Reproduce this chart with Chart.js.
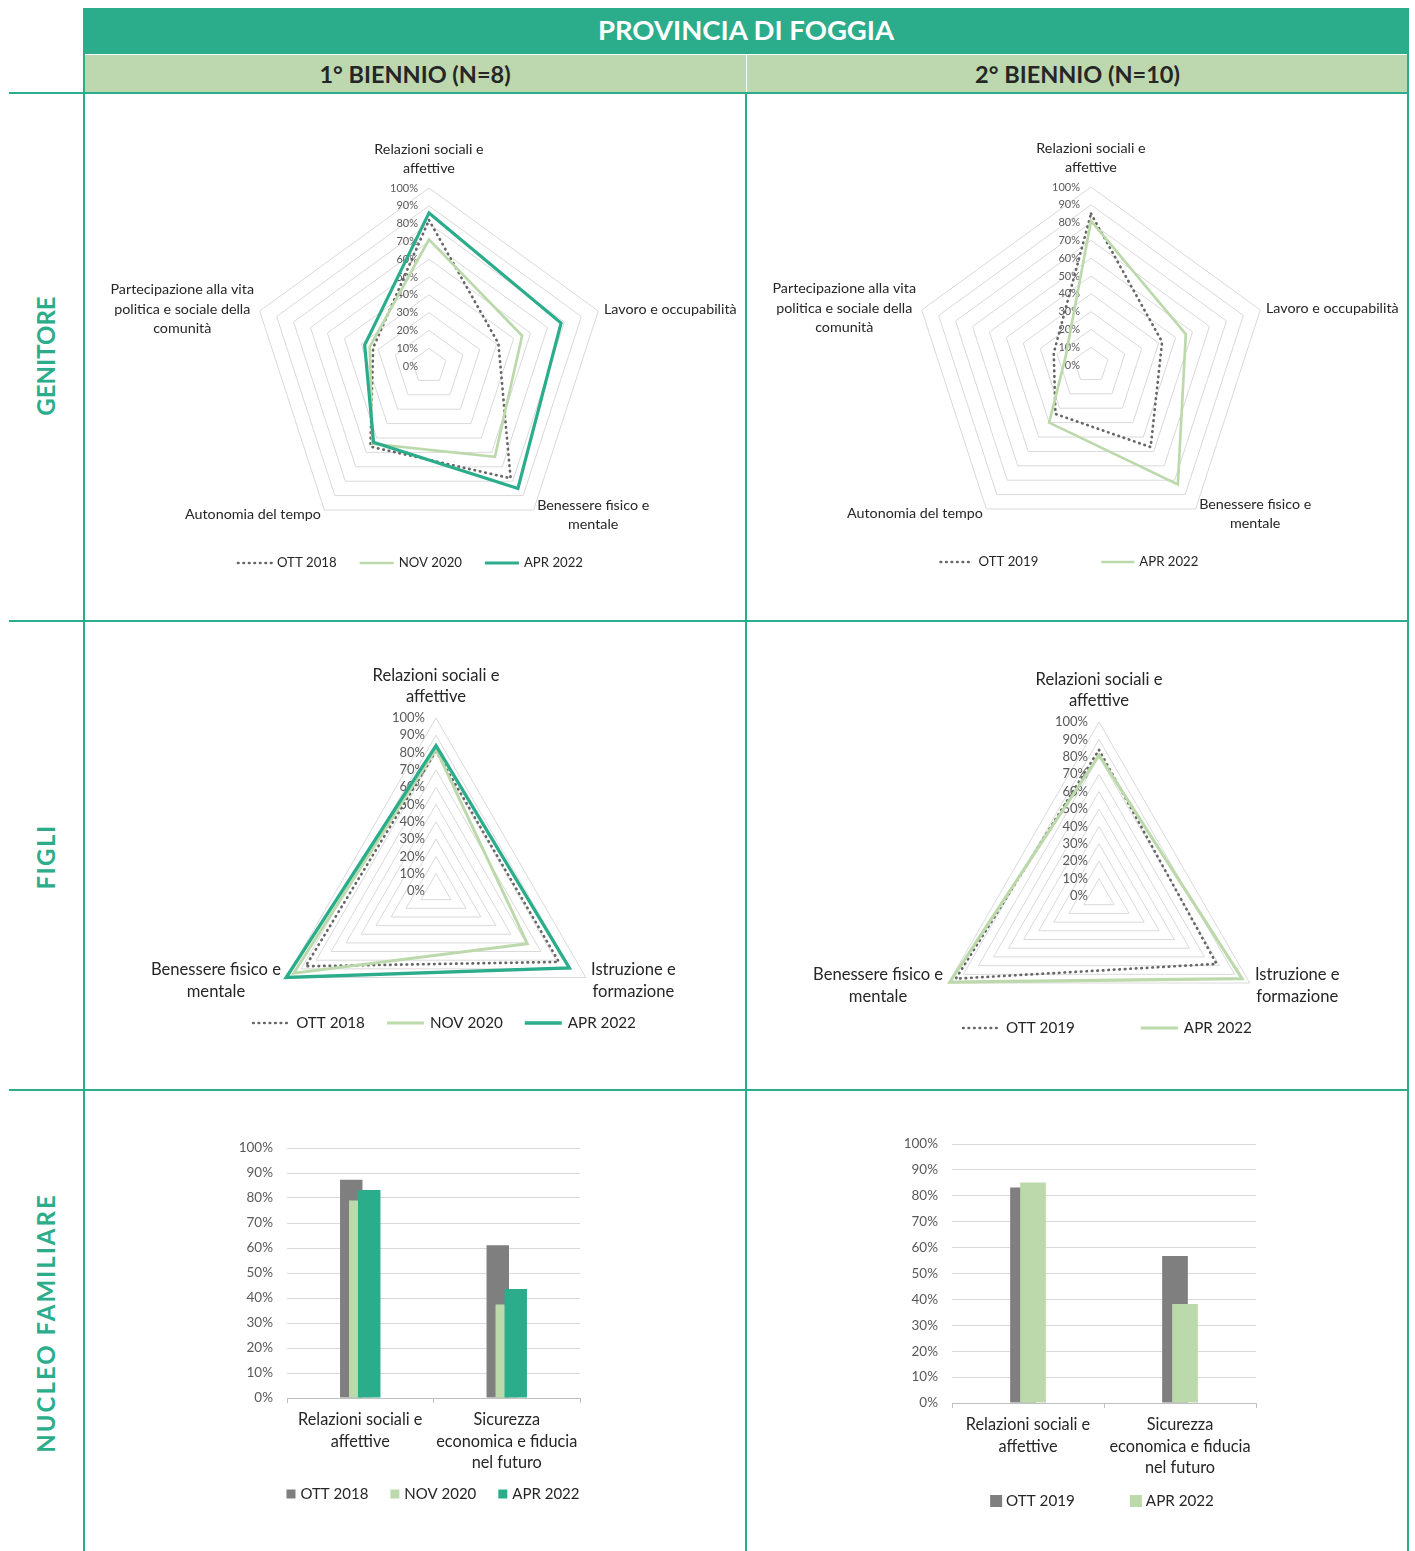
<!DOCTYPE html>
<html lang="it">
<head>
<meta charset="utf-8">
<title>Provincia di Foggia</title>
<script src="https://cdn.jsdelivr.net/npm/chart.js@4.4.1/dist/chart.umd.min.js"></script>
<style>
  body { margin: 0; background: #fff; }
  #page { position: relative; width: 1415px; height: 1551px; overflow: hidden;
          font-family: Lato, "Open Sans", sans-serif; }
  .cell { position: absolute; }
  .rule { position: absolute; background: #2bad8c; z-index: 3; }
  .band { position: absolute; display: flex; align-items: center; justify-content: center;
          font-weight: 700; }
  .rowlabel { position: absolute; color: #2bad8c; font-weight: 700; font-size: 24px;
              transform: translate(-50%, -50%) rotate(-90deg); white-space: nowrap; }
</style>
</head>
<body>
<div id="page">
  <div class="band" style="left:84px;top:8px;width:1324px;height:46px;padding-bottom:3px;box-sizing:border-box;background:#2bad8c;color:#fff;font-size:27.5px;">PROVINCIA DI FOGGIA</div>
  <div class="band" style="left:84px;top:55px;width:662px;height:37px;background:#bdd8af;color:#262626;font-size:23.5px;">1° BIENNIO (N=8)</div>
  <div class="band" style="left:747px;top:55px;width:661px;height:37px;background:#bdd8af;color:#262626;font-size:23.5px;">2° BIENNIO (N=10)</div>

  <!-- table rules -->
  <div class="rule" style="left:9px;top:92px;width:1399px;height:2px;"></div>
  <div class="rule" style="left:9px;top:620px;width:1399px;height:2px;"></div>
  <div class="rule" style="left:9px;top:1089px;width:1399px;height:2px;"></div>
  <div class="rule" style="left:83px;top:8px;width:2px;height:1543px;"></div>
  <div class="rule" style="left:745px;top:92px;width:2px;height:1459px;"></div>
  <div class="rule" style="left:1407px;top:8px;width:2px;height:1543px;"></div>

  <div class="rowlabel" style="left:45px;top:356px;">GENITORE</div>
  <div class="rowlabel" style="left:45px;top:857px;letter-spacing:1.5px;">FIGLI</div>
  <div class="rowlabel" style="left:45px;top:1323px;letter-spacing:2px;">NUCLEO FAMILIARE</div>

  <div class="cell" style="left:84px;top:93px;width:662px;height:528px;"><canvas id="gen1"></canvas></div>
  <div class="cell" style="left:746px;top:93px;width:662px;height:528px;"><canvas id="gen2"></canvas></div>
  <div class="cell" style="left:84px;top:621px;width:662px;height:469px;"><canvas id="fig1"></canvas></div>
  <div class="cell" style="left:746px;top:621px;width:662px;height:469px;"><canvas id="fig2"></canvas></div>
  <div class="cell" style="left:84px;top:1090px;width:662px;height:461px;"><canvas id="nuc1"></canvas></div>
  <div class="cell" style="left:746px;top:1090px;width:662px;height:461px;"><canvas id="nuc2"></canvas></div>
</div>

<script>
  /* ============== DATA ============== */
  const genitoreAxes = [
    ["Relazioni sociali e", "affettive"],
    ["Lavoro e occupabilità"],
    ["Benessere fisico e", "mentale"],
    ["Autonomia del tempo"],
    ["Partecipazione alla vita", "politica e sociale della", "comunità"],
  ];
  const figliAxes = [
    ["Relazioni sociali e", "affettive"],
    ["Istruzione e", "formazione"],
    ["Benessere fisico e", "mentale"],
  ];
  const nucleoCategories = [
    ["Relazioni sociali e", "affettive"],
    ["Sicurezza", "economica e fiducia", "nel futuro"],
  ];
  const percentTicks = [0, 10, 20, 30, 40, 50, 60, 70, 80, 90, 100];

  // genitore, 1° biennio
  const gen1Ott2018 = [82, 41, 78, 56, 33];
  const gen1Nov2020 = [71, 55, 63, 54, 35];
  const gen1Apr2022 = [86, 78, 85, 53, 38];
  // genitore, 2° biennio
  const gen2Ott2019 = [85, 42, 57, 34, 22];
  const gen2Apr2022 = [81, 56, 83, 40, 15];

  // figli
  const fig1Ott2018 = [81, 82, 87];
  const fig1Nov2020 = [82, 61, 95];
  const fig1Apr2022 = [84, 89, 100];
  const fig2Ott2019 = [84, 78, 95];
  const fig2Apr2022 = [81, 95, 99];

  // nucleo familiare
  const nuc1Ott2018 = [87.3, 61.1];
  const nuc1Nov2020 = [79.0, 37.4];
  const nuc1Apr2022 = [83.2, 43.6];
  const nuc2Ott2019 = [83.2, 56.8];
  const nuc2Apr2022 = [85.1, 38.2];

  /* ============== STYLE ============== */
  const FONT = "Lato, 'Open Sans', sans-serif";
  const DARK_GREEN = "#2bad8c";
  const LIGHT_GREEN = "#bcd9ab";
  const DOT_GREY = "#666666";
  const BAR_GREY = "#7f7f7f";
  const TEXT = "#262626";
  const TICK_TEXT = "#595959";

  Chart.defaults.font.family = FONT;
  Chart.defaults.color = TEXT;
  Chart.defaults.animation = false;

  const dotted = (label, data) => ({
    label, data, borderColor: DOT_GREY, borderWidth: 2.7,
    borderDash: [0.5, 5], borderCapStyle: "round",
  });
  const solid = (label, data, color, width) => ({
    label, data, borderColor: color, borderWidth: width,
  });

  /* ============== PLUGINS ============== */
  // excel paints later series on top: draw datasets in index order
  const paintInOrder = {
    id: "paintInOrder",
    beforeDatasetsDraw(chart) {
      chart.data.datasets.forEach((ds, i) => {
        const meta = chart.getDatasetMeta(i);
        if (meta.visible !== false) meta.controller.draw();
      });
      return false;
    },
  };

  // percent labels just left of the vertical axis
  const radarTicks = {
    id: "radarTicks",
    beforeDatasetsDraw(chart, args, o) {
      const scale = chart.scales.r;
      const ctx = chart.ctx;
      ctx.save();
      ctx.font = `${o.size}px ${FONT}`;
      ctx.fillStyle = TICK_TEXT;
      ctx.textAlign = "right";
      ctx.textBaseline = "middle";
      scale.ticks.forEach((t) => {
        const d = scale.getDistanceFromCenterForValue(t.value);
        ctx.fillText(t.value + "%", scale.xCenter - o.offset, scale.yCenter - d);
      });
      ctx.restore();
    },
  };

  // category labels placed like excel does (side labels centred on the spoke)
  const radarLabels = {
    id: "radarLabels",
    afterDraw(chart, args, o) {
      const scale = chart.scales.r;
      const ctx = chart.ctx;
      ctx.save();
      ctx.font = `${o.size}px ${FONT}`;
      ctx.fillStyle = TEXT;
      ctx.textAlign = "center";
      ctx.textBaseline = "middle";
      chart.data.labels.forEach((lines, i) => {
        const p = scale.getPointPosition(i, scale.drawingArea + o.gap);
        const dx = p.x - scale.xCenter;
        const w = Math.max(...lines.map((l) => ctx.measureText(l).width));
        let cx, y0;
        if (Math.abs(dx) < 1) {
          cx = p.x;
          y0 = p.y - 4 - (lines.length - 0.5) * o.lineHeight;
        } else {
          cx = dx > 0 ? p.x + w / 2 : p.x - w / 2;
          y0 = p.y - ((lines.length - 1) * o.lineHeight) / 2;
        }
        lines.forEach((l, k) => ctx.fillText(l, cx, y0 + k * o.lineHeight));
      });
      ctx.restore();
    },
  };

  // single row legend under the chart
  const rowLegend = {
    id: "rowLegend",
    afterDraw(chart, args, o) {
      const ctx = chart.ctx;
      const isBar = chart.config.type === "bar";
      ctx.save();
      ctx.font = `${o.size}px ${FONT}`;
      ctx.textAlign = "left";
      ctx.textBaseline = "middle";
      const items = chart.data.datasets.map((ds) => ({
        ds, w: o.sample + o.textGap + ctx.measureText(ds.label).width,
      }));
      const total = items.reduce((s, it) => s + it.w, 0) + o.gap * (items.length - 1);
      let x = o.x - total / 2;
      items.forEach(({ ds, w }) => {
        if (isBar) {
          ctx.fillStyle = ds.backgroundColor;
          ctx.fillRect(x, o.y - o.sample / 2, o.sample, o.sample);
        } else {
          ctx.strokeStyle = ds.borderColor;
          ctx.lineWidth = ds.borderWidth;
          ctx.lineCap = ds.borderCapStyle || "butt";
          ctx.setLineDash(ds.borderDash || []);
          ctx.beginPath();
          ctx.moveTo(x + 1, o.y);
          ctx.lineTo(x + o.sample - 1, o.y);
          ctx.stroke();
          ctx.setLineDash([]);
        }
        ctx.fillStyle = TEXT;
        ctx.fillText(ds.label, x + o.sample + o.textGap, o.y);
        x += w + o.gap;
      });
      ctx.restore();
    },
  };

  /* ============== CHART BUILDERS ============== */
  function radar(id, labels, datasets, cfg) {
    return new Chart(document.getElementById(id), {
      type: "radar",
      data: { labels, datasets },
      options: {
        responsive: true,
        maintainAspectRatio: false,
        layout: { padding: cfg.padding },
        elements: {
          line: { tension: 0, fill: false, borderJoinStyle: "miter" },
          point: { radius: 0, hoverRadius: 0, hitRadius: 0 },
        },
        scales: {
          r: {
            min: 0,
            max: 100,
            ticks: { display: false, stepSize: 10 },
            afterBuildTicks: (s) => { s.ticks = percentTicks.map((v) => ({ value: v })); },
            grid: { color: "#d9d9d9", lineWidth: 1 },
            angleLines: { display: false },
            pointLabels: { display: false },
          },
        },
        plugins: {
          legend: { display: false },
          tooltip: { enabled: false },
          radarTicks: cfg.ticks,
          radarLabels: cfg.labels,
          rowLegend: cfg.legend,
        },
      },
      plugins: [radarTicks, radarLabels, rowLegend, paintInOrder],
    });
  }

  function bars(id, datasets, cfg) {
    return new Chart(document.getElementById(id), {
      type: "bar",
      data: { labels: nucleoCategories, datasets },
      options: {
        responsive: true,
        maintainAspectRatio: false,
        layout: { padding: cfg.padding },
        datasets: {
          bar: { categoryPercentage: cfg.categoryPercentage, barPercentage: cfg.barPercentage, borderWidth: 0 },
        },
        scales: {
          x: {
            grid: { offset: true, drawOnChartArea: false, drawTicks: true, tickLength: 5, color: "#bfbfbf" },
            border: { display: true, color: "#bfbfbf" },
            ticks: { color: TEXT, font: { size: 16.3, lineHeight: 1.33 }, padding: 6, maxRotation: 0, autoSkip: false },
            afterFit: (s) => { s.height = 90; },
          },
          y: {
            min: 0,
            max: 100,
            ticks: { stepSize: 10, callback: (v) => v + "%", color: TICK_TEXT, font: { size: 13.5 }, padding: 14 },
            grid: { color: "#d9d9d9", drawTicks: false },
            border: { display: false },
            afterFit: (s) => { s.width = 50; },
          },
        },
        plugins: {
          legend: { display: false },
          tooltip: { enabled: false },
          rowLegend: cfg.legend,
        },
      },
      plugins: [rowLegend, paintInOrder],
    });
  }

  /* ============== GENITORE ============== */
  const genLabels = { size: 14.3, lineHeight: 19.3, gap: 6 };
  const genTicks = { size: 11, offset: 11 };

  radar("gen1", genitoreAxes, [
    dotted("OTT 2018", gen1Ott2018),
    solid("NOV 2020", gen1Nov2020, LIGHT_GREEN, 2.7),
    solid("APR 2022", gen1Apr2022, DARK_GREEN, 3.2),
  ], {
    padding: { top: 95, bottom: 77, left: 100, right: 72 },
    ticks: genTicks, labels: genLabels,
    legend: { x: 326, y: 470, size: 13.2, sample: 36, textGap: 4, gap: 22 },
  });

  radar("gen2", genitoreAxes, [
    dotted("OTT 2019", gen2Ott2019),
    solid("APR 2022", gen2Apr2022, LIGHT_GREEN, 2.7),
  ], {
    padding: { top: 94, bottom: 78, left: 100, right: 72 },
    ticks: genTicks, labels: genLabels,
    legend: { x: 323, y: 469, size: 13.2, sample: 35, textGap: 4, gap: 62 },
  });

  /* ============== FIGLI ============== */
  const figLabels = { size: 16.6, lineHeight: 21.8, gap: 6 };
  const figTicks = { size: 13, offset: 11 };

  radar("fig1", figliAxes, [
    dotted("OTT 2018", fig1Ott2018),
    solid("NOV 2020", fig1Nov2020, LIGHT_GREEN, 2.9),
    solid("APR 2022", fig1Apr2022, DARK_GREEN, 3.3),
  ], {
    padding: { top: 97, bottom: 26, left: 100, right: 58 },
    ticks: figTicks, labels: figLabels,
    legend: { x: 360, y: 402, size: 15.2, sample: 39, textGap: 5, gap: 21 },
  });

  radar("fig2", figliAxes, [
    dotted("OTT 2019", fig2Ott2019),
    solid("APR 2022", fig2Apr2022, LIGHT_GREEN, 3.1),
  ], {
    padding: { top: 101, bottom: 20, left: 100, right: 56 },
    ticks: figTicks, labels: figLabels,
    legend: { x: 361, y: 407, size: 15.2, sample: 39, textGap: 5, gap: 65 },
  });

  /* ============== NUCLEO FAMILIARE ============== */
  bars("nuc1", [
    { label: "OTT 2018", data: nuc1Ott2018, backgroundColor: BAR_GREY },
    { label: "NOV 2020", data: nuc1Nov2020, backgroundColor: LIGHT_GREEN },
    { label: "APR 2022", data: nuc1Apr2022, backgroundColor: DARK_GREEN },
  ], {
    padding: { top: 58, bottom: 63, left: 153, right: 166 },
    categoryPercentage: 0.184, barPercentage: 2.5,
    legend: { x: 349, y: 404, size: 15, sample: 9, textGap: 5, gap: 22 },
  });

  bars("nuc2", [
    { label: "OTT 2019", data: nuc2Ott2019, backgroundColor: BAR_GREY },
    { label: "APR 2022", data: nuc2Apr2022, backgroundColor: LIGHT_GREEN },
  ], {
    padding: { top: 54, bottom: 58, left: 156, right: 152 },
    categoryPercentage: 0.1316, barPercentage: 2.57,
    legend: { x: 356, y: 411, size: 15.2, sample: 12, textGap: 4, gap: 55 },
  });
</script>
</body>
</html>
